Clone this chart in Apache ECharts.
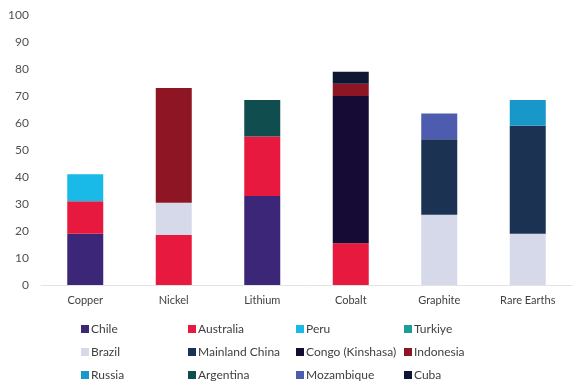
<!DOCTYPE html>
<html>
<head>
<meta charset="utf-8">
<script src="https://cdn.jsdelivr.net/npm/echarts@6/dist/echarts.min.js"></script>
<style>html,body{margin:0;padding:0;background:#fff;}#c{width:587px;height:388px;}</style>
</head>
<body>
<div id="c"></div>
<script>
const categories = ['Copper', 'Nickel', 'Lithium', 'Cobalt', 'Graphite', 'Rare Earths'];
const yTicks = [0, 10, 20, 30, 40, 50, 60, 70, 80, 90, 100];

const chile        = [19, null, 33, null, null, null];
const australia    = [12, 18.5, 22, 15.5, null, null];
const peru         = [10, null, null, null, null, null];
const turkiye      = [null, null, null, null, null, null];
const brazil       = [null, 12, null, null, 26, 19];
const mainlandChina= [null, null, null, null, 28, 40];
const congo        = [null, null, null, 54.5, null, null];
const indonesia    = [null, 42.5, null, 4.5, null, null];
const russia       = [null, null, null, null, null, 9.5];
const argentina    = [null, null, 13.5, null, null, null];
const mozambique   = [null, null, null, null, 9.5, null];
const cuba         = [null, null, null, 4.5, null, null];

const seriesDefs = [
  ['Chile', chile, '#3b2677'],
  ['Australia', australia, '#e8193e'],
  ['Peru', peru, '#19b9e8'],
  ['Turkiye', turkiye, '#1a9e97'],
  ['Brazil', brazil, '#d5d9ea'],
  ['Mainland China', mainlandChina, '#1b3253'],
  ['Congo (Kinshasa)', congo, '#150b35'],
  ['Indonesia', indonesia, '#8e1523'],
  ['Russia', russia, '#1898c9'],
  ['Argentina', argentina, '#0f4d4e'],
  ['Mozambique', mozambique, '#4d5cae'],
  ['Cuba', cuba, '#0e1631']
];

const font = 'Lato, "Open Sans", sans-serif';
const legendLeft = [81, 188, 296, 404];
const legendTop = [322, 345, 368];

const chart = echarts.init(document.getElementById('c'));
chart.setOption({
  animation: false,
  backgroundColor: '#fff',
  grid: { left: 41, right: 15, top: 15, bottom: 103 },
  legend: seriesDefs.map(([name], i) => ({
    data: [name],
    orient: 'horizontal',
    left: legendLeft[i % 4],
    top: legendTop[Math.floor(i / 4)],
    itemWidth: 8,
    itemHeight: 8,
    icon: 'rect',
    selectedMode: false,
    padding: 0,
    textStyle: { fontFamily: font, fontSize: 12, color: '#404040', lineHeight: 14, padding: [0, 0, 0, -3] }
  })),
  xAxis: {
    type: 'category',
    data: categories,
    axisLine: { show: true, lineStyle: { color: '#e3e3e3', width: 1 } },
    axisTick: { show: false },
    axisLabel: { fontFamily: font, fontSize: 11, color: '#404040', margin: 10 }
  },
  yAxis: {
    type: 'value',
    min: yTicks[0],
    max: yTicks[yTicks.length - 1],
    interval: 10,
    axisLine: { show: false },
    axisTick: { show: false },
    splitLine: { show: false },
    axisLabel: { fontFamily: font, fontSize: 12, color: '#505050', margin: 12 }
  },
  series: seriesDefs.map(([name, data, color]) => ({
    name, type: 'bar', stack: 'total', data, barWidth: 36,
    itemStyle: { color }
  }))
});
</script>
</body>
</html>
